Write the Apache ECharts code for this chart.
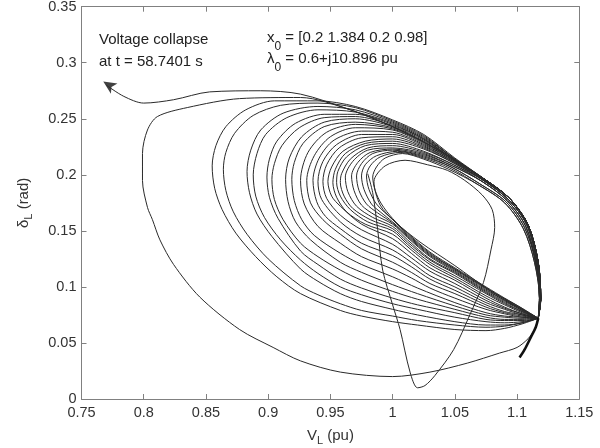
<!DOCTYPE html>
<html>
<head>
<meta charset="utf-8">
<script src="https://cdn.jsdelivr.net/npm/echarts@6/dist/echarts.min.js"></script>
<style>
  html, body { margin: 0; padding: 0; background: #fff; }
  #chart { width: 600px; height: 448px; }
</style>
</head>
<body>
<div id="chart"></div>
<script>
// phase portrait V_L vs delta_L
const transient = [[.98,.201],[.984,.184],[.988,.151],[.992,.115],[1,.084],[1.006,.062],[1.014,.024],[1.02,.01],[1.026,.012],[1.034,.021],[1.049,.044],[1.062,.075],[1.073,.104],[1.079,.133],[1.082,.153],[1.08,.169],[1.072,.182],[1.058,.195],[1.044,.204],[1.028,.209],[1.01,.213],[.994,.208],[.985,.194],[.99,.173],[1.002,.158],[1.022,.14],[1.05,.119],[1.078,.097],[1.099,.084],[1.117,.072]];

// loops, innermost first
const loops = [
  [[1.117,.072],[1.118,.09],[1.114,.122],[1.105,.152],[1.09,.175],[1.069,.191],[1.045,.205],[1.025,.214],[1.008,.219],[.994,.215],[.987,.207],[.984,.198],[.986,.186],[.991,.174],[1,.161],[1.012,.148],[1.03,.131],[1.05,.117],[1.075,.1],[1.09,.09],[1.104,.081],[1.117,.072]],
  [[1.117,.072],[1.118,.09],[1.114,.122],[1.105,.152],[1.09,.175],[1.069,.191],[1.046,.206],[1.025,.215],[1.006,.22],[.99,.216],[.982,.208],[.979,.199],[.981,.187],[.987,.174],[1,.16],[1.012,.147],[1.03,.13],[1.05,.116],[1.075,.099],[1.09,.089],[1.104,.08],[1.117,.072]],
  [[1.117,.072],[1.118,.09],[1.115,.122],[1.106,.153],[1.091,.176],[1.07,.192],[1.047,.207],[1.025,.216],[1.004,.221],[.987,.217],[.978,.209],[.975,.199],[.977,.187],[.983,.174],[.99,.167],[1,.158],[1.012,.146],[1.03,.129],[1.05,.116],[1.075,.099],[1.09,.089],[1.104,.08],[1.117,.072]],
  [[1.117,.072],[1.118,.09],[1.115,.122],[1.106,.153],[1.091,.176],[1.07,.192],[1.047,.207],[1.025,.217],[1,.222],[.984,.219],[.975,.21],[.971,.199],[.973,.186],[.979,.174],[.988,.166],[1,.157],[1.012,.145],[1.03,.128],[1.05,.115],[1.075,.098],[1.09,.088],[1.104,.08],[1.117,.072]],
  [[1.117,.072],[1.118,.09],[1.115,.122],[1.107,.154],[1.092,.177],[1.072,.194],[1.048,.208],[1.025,.218],[1,.223],[.982,.22],[.972,.211],[.967,.199],[.969,.186],[.975,.173],[.986,.164],[1,.156],[1.012,.144],[1.03,.127],[1.05,.114],[1.075,.097],[1.09,.088],[1.104,.079],[1.117,.072]],
  [[1.117,.072],[1.118,.09],[1.115,.122],[1.107,.154],[1.092,.177],[1.072,.194],[1.048,.208],[1.025,.219],[1,.224],[.98,.222],[.968,.212],[.962,.198],[.964,.185],[.971,.172],[.984,.162],[1,.154],[1.012,.142],[1.03,.125],[1.05,.113],[1.075,.096],[1.09,.087],[1.104,.079],[1.117,.072]],
  [[1.117,.072],[1.118,.09],[1.115,.122],[1.107,.154],[1.092,.177],[1.072,.194],[1.049,.209],[1.025,.22],[1,.226],[.98,.224],[.966,.214],[.959,.201],[.958,.193],[.961,.181],[.968,.17],[.982,.16],[1,.152],[1.012,.14],[1.03,.124],[1.05,.112],[1.075,.095],[1.09,.086],[1.104,.078],[1.117,.072]],
  [[1.117,.072],[1.119,.09],[1.116,.122],[1.108,.155],[1.093,.178],[1.073,.195],[1.049,.209],[1.025,.221],[1,.228],[.978,.226],[.963,.216],[.956,.203],[.955,.193],[.958,.181],[.966,.169],[.98,.158],[1,.15],[1.012,.138],[1.03,.122],[1.05,.11],[1.075,.094],[1.09,.085],[1.104,.078],[1.117,.072]],
  [[1.117,.072],[1.119,.09],[1.116,.122],[1.108,.155],[1.093,.178],[1.073,.195],[1.05,.21],[1.025,.223],[1,.23],[.978,.228],[.962,.219],[.954,.205],[.952,.193],[.955,.18],[.963,.167],[.978,.156],[1,.147],[1.015,.133],[1.03,.12],[1.05,.108],[1.075,.092],[1.09,.084],[1.104,.077],[1.117,.072]],
  [[1.117,.072],[1.119,.09],[1.116,.122],[1.108,.155],[1.093,.178],[1.073,.195],[1.05,.21],[1.025,.224],[1,.232],[.978,.23],[.96,.221],[.951,.207],[.948,.194],[.951,.181],[.958,.172],[.975,.156],[1,.143],[1.015,.13],[1.03,.117],[1.05,.106],[1.075,.09],[1.09,.082],[1.104,.076],[1.117,.072]],
  [[1.117,.072],[1.119,.09],[1.116,.122],[1.108,.155],[1.093,.178],[1.073,.195],[1.05,.211],[1.025,.225],[1,.234],[.975,.233],[.957,.224],[.947,.209],[.944,.194],[.947,.179],[.958,.164],[.975,.151],[1,.138],[1.015,.126],[1.03,.114],[1.05,.103],[1.075,.088],[1.09,.081],[1.104,.076],[1.117,.072]],
  [[1.117,.072],[1.119,.09],[1.117,.122],[1.109,.155],[1.094,.179],[1.074,.196],[1.05,.211],[1.025,.226],[1,.236],[.975,.236],[.955,.227],[.944,.212],[.94,.194],[.943,.178],[.958,.158],[.975,.145],[1,.133],[1.015,.122],[1.03,.11],[1.05,.1],[1.075,.086],[1.09,.08],[1.104,.075],[1.117,.072]],
  [[1.117,.072],[1.119,.09],[1.117,.122],[1.109,.155],[1.094,.179],[1.074,.196],[1.05,.212],[1.025,.227],[1,.238],[.975,.239],[.953,.231],[.941,.215],[.936,.195],[.939,.176],[.946,.163],[.958,.152],[.975,.139],[1,.128],[1.015,.118],[1.03,.107],[1.05,.097],[1.075,.084],[1.09,.078],[1.104,.075],[1.117,.072]],
  [[1.117,.072],[1.119,.09],[1.117,.122],[1.109,.155],[1.094,.179],[1.074,.196],[1.05,.212],[1.025,.228],[1,.24],[.97,.242],[.95,.234],[.937,.217],[.931,.195],[.934,.175],[.944,.16],[.958,.147],[.975,.134],[1,.122],[1.015,.113],[1.03,.103],[1.05,.094],[1.075,.082],[1.09,.077],[1.104,.074],[1.117,.072]],
  [[1.117,.072],[1.119,.09],[1.117,.122],[1.109,.155],[1.094,.179],[1.074,.196],[1.05,.213],[1.025,.229],[1,.241],[.97,.245],[.947,.238],[.932,.22],[.926,.195],[.929,.174],[.94,.154],[.958,.139],[.975,.127],[1,.116],[1.015,.108],[1.03,.099],[1.05,.09],[1.075,.08],[1.09,.076],[1.104,.073],[1.117,.072]],
  [[1.117,.072],[1.119,.09],[1.117,.122],[1.109,.155],[1.094,.179],[1.074,.196],[1.05,.213],[1.025,.23],[1,.242],[.97,.247],[.945,.243],[.928,.228],[.921,.211],[.919,.196],[.921,.177],[.927,.16],[.937,.146],[.958,.13],[.975,.12],[1,.109],[1.02,.099],[1.05,.086],[1.075,.077],[1.09,.074],[1.104,.073],[1.117,.072]],
  [[1.117,.072],[1.119,.09],[1.117,.122],[1.109,.155],[1.094,.179],[1.074,.196],[1.05,.213],[1.025,.231],[1,.243],[.97,.25],[.945,.247],[.927,.234],[.917,.215],[.914,.196],[.916,.176],[.922,.158],[.934,.142],[.958,.122],[.975,.113],[1,.102],[1.02,.094],[1.05,.083],[1.075,.075],[1.09,.073],[1.104,.072],[1.117,.072]],
  [[1.117,.072],[1.119,.09],[1.117,.122],[1.109,.155],[1.094,.179],[1.074,.196],[1.05,.213],[1.025,.232],[1,.244],[.97,.252],[.945,.251],[.925,.242],[.911,.226],[.905,.21],[.903,.196],[.905,.178],[.912,.16],[.926,.139],[.94,.127],[.958,.115],[.975,.106],[1,.096],[1.02,.089],[1.05,.08],[1.075,.073],[1.09,.071],[1.104,.071],[1.117,.072]],
  [[1.117,.072],[1.119,.09],[1.117,.122],[1.109,.155],[1.094,.179],[1.074,.196],[1.05,.213],[1.025,.232],[1,.245],[.97,.254],[.945,.254],[.922,.246],[.907,.23],[.901,.214],[.899,.198],[.901,.18],[.908,.161],[.926,.132],[.94,.12],[.958,.107],[.975,.099],[1,.09],[1.02,.084],[1.05,.077],[1.075,.071],[1.09,.07],[1.104,.07],[1.117,.072]],
  [[1.117,.072],[1.119,.09],[1.117,.122],[1.109,.155],[1.094,.179],[1.074,.196],[1.05,.214],[1.025,.233],[1,.246],[.97,.256],[.94,.258],[.915,.251],[.898,.236],[.891,.219],[.888,.2],[.89,.181],[.897,.162],[.91,.142],[.926,.124],[.94,.112],[.958,.1],[.975,.093],[1,.085],[1.02,.08],[1.05,.073],[1.075,.069],[1.09,.068],[1.104,.069],[1.117,.072]],
  [[1.117,.072],[1.119,.09],[1.117,.122],[1.109,.155],[1.094,.179],[1.074,.196],[1.05,.214],[1.025,.234],[1,.247],[.97,.258],[.94,.261],[.912,.255],[.894,.24],[.886,.222],[.883,.203],[.885,.184],[.891,.165],[.903,.145],[.926,.116],[.94,.105],[.958,.094],[.975,.087],[1,.08],[1.02,.075],[1.05,.069],[1.075,.066],[1.09,.066],[1.104,.068],[1.117,.072]],
  [[1.117,.072],[1.119,.09],[1.117,.122],[1.109,.155],[1.094,.179],[1.074,.196],[1.05,.214],[1.025,.235],[1,.248],[.97,.26],[.94,.264],[.91,.262],[.888,.253],[.873,.237],[.866,.22],[.864,.205],[.866,.186],[.872,.167],[.883,.147],[.9,.125],[.926,.101],[.94,.093],[.958,.085],[.975,.079],[1,.074],[1.02,.07],[1.05,.066],[1.075,.064],[1.09,.065],[1.104,.068],[1.117,.072]],
  [[1.117,.072],[1.119,.09],[1.117,.122],[1.109,.155],[1.094,.179],[1.074,.196],[1.05,.215],[1.025,.236],[1,.249],[.97,.261],[.94,.266],[.905,.266],[.882,.258],[.866,.243],[.858,.226],[.855,.208],[.857,.188],[.863,.169],[.874,.148],[.89,.127],[.907,.109],[.926,.094],[.958,.079],[.975,.074],[1,.069],[1.02,.066],[1.05,.062],[1.075,.061],[1.09,.063],[1.104,.067],[1.117,.072]]
];

const lastLoop = [[1.117,.072],[1.119,.088],[1.116,.122],[1.109,.155],[1.094,.179],[1.074,.195],[1.05,.213],[1.022,.231],[.998,.244],[.966,.258],[.926,.269],[.877,.268],[.835,.26],[.811,.252],[.803,.24],[.799,.219],[.799,.195],[.803,.171],[.807,.16],[.813,.142],[.824,.12],[.845,.091],[.877,.062],[.904,.046],[.926,.034],[.958,.024],[1,.02],[1.03,.024],[1.06,.032],[1.086,.041],[1.1,.046],[1.109,.054],[1.114,.062],[1.117,.072]];
// short heavy stub below the corner
const tail = [[1.102,.037],[1.106,.044],[1.111,.055],[1.115,.064],[1.117,.072]];

const collapseRun = [[1.117,.072],[1.119,.088],[1.116,.122],[1.109,.155],[1.094,.179],[1.074,.195],[1.05,.213],[1.022,.231],[.998,.244],[.966,.258],[.926,.272],[.894,.275],[.853,.274],[.824,.267],[.8,.264],[.784,.27],[.77,.28]];
const arrowTip = [[.7675,.2832]];

const xRange = [0.75, 1.15];
const yRange = [0, 0.35];
const tickStep = 0.05;

const noteLeft = ['Voltage collapse', 'at t = 58.7401 s'];
const noteX0 = '{i|x}{s|0}{i| = [0.2 1.384 0.2 0.98]}';
const noteL0 = '{i|λ}{s|0}{i| = 0.6+j10.896 pu}';

const FONT = '"Liberation Sans", Arial, Helvetica, sans-serif';
const LINE = '#2a2a2a';
const AXIS = '#808080';

const chart = echarts.init(document.getElementById('chart'));

const axisBase = {
  type: 'value',
  axisLine: { show: true, onZero: false, lineStyle: { color: AXIS, width: 1 } },
  axisTick: { show: true, inside: true, length: 5, lineStyle: { color: AXIS } },
  splitLine: { show: false }
};
const tickLabel = { color: '#333', fontSize: 14.5, fontFamily: FONT };
const nameRich = {
  i: { fontSize: 15, fontFamily: FONT, color: '#333', lineHeight: 22, verticalAlign: 'middle' },
  s: { fontSize: 11, fontFamily: FONT, color: '#333', lineHeight: 10, verticalAlign: 'bottom' }
};
const noteRich = {
  i: { fontSize: 15, fontFamily: FONT, fill: '#222', lineHeight: 30, verticalAlign: 'middle' },
  s: { fontSize: 12, fontFamily: FONT, fill: '#222', lineHeight: 12, verticalAlign: 'bottom' }
};

const curves = [transient, ...loops, lastLoop, collapseRun];
const series = curves.map(d => ({
  type: 'line',
  data: d,
  showSymbol: false,
  smooth: 0.3,
  silent: true,
  lineStyle: { color: LINE, width: 1 }
}));
series.push({
  type: 'line',
  data: tail,
  showSymbol: false,
  smooth: 0.3,
  silent: true,
  lineStyle: { color: '#111', width: 2.6 }
});
series.push({
  type: 'scatter',
  data: arrowTip,
  symbol: 'arrow',
  symbolSize: [9, 13],
  symbolRotate: 57,
  silent: true,
  itemStyle: { color: '#111' }
});

chart.setOption({
  animation: false,
  backgroundColor: '#fff',
  grid: { left: 81.5, right: 20.7, top: 6.7, bottom: 49, containLabel: false, outerBoundsMode: 'none' },
  xAxis: [
    {
      ...axisBase, position: 'bottom', min: xRange[0], max: xRange[1], interval: tickStep,
      axisLabel: { ...tickLabel, margin: 6 },
      name: '{i|V}{s|L}{i| (pu)}', nameLocation: 'middle', nameGap: 20,
      nameTextStyle: { rich: nameRich, lineHeight: 22 }
    },
    { ...axisBase, position: 'top', min: xRange[0], max: xRange[1], interval: tickStep, axisLabel: { show: false } }
  ],
  yAxis: [
    {
      ...axisBase, position: 'left', min: yRange[0], max: yRange[1], interval: tickStep,
      axisLabel: { ...tickLabel, margin: 5 },
      name: '{i|δ}{s|L}{i| (rad)}', nameLocation: 'middle', nameGap: 47,
      nameTextStyle: { rich: nameRich, lineHeight: 22 }
    },
    { ...axisBase, position: 'right', min: yRange[0], max: yRange[1], interval: tickStep, axisLabel: { show: false } }
  ],
  graphic: [
    { type: 'text', x: 99, y: 40, silent: true, style: { text: noteLeft[0], fontSize: 15, fontFamily: FONT, fill: '#222', verticalAlign: 'middle' } },
    { type: 'text', x: 99, y: 62, silent: true, style: { text: noteLeft[1], fontSize: 15, fontFamily: FONT, fill: '#222', verticalAlign: 'middle' } },
    { type: 'text', x: 267, y: 37.5, silent: true, style: { text: noteX0, rich: noteRich, verticalAlign: 'middle' } },
    { type: 'text', x: 267, y: 58.5, silent: true, style: { text: noteL0, rich: noteRich, verticalAlign: 'middle' } }
  ],
  series: series
});
</script>
</body>
</html>
